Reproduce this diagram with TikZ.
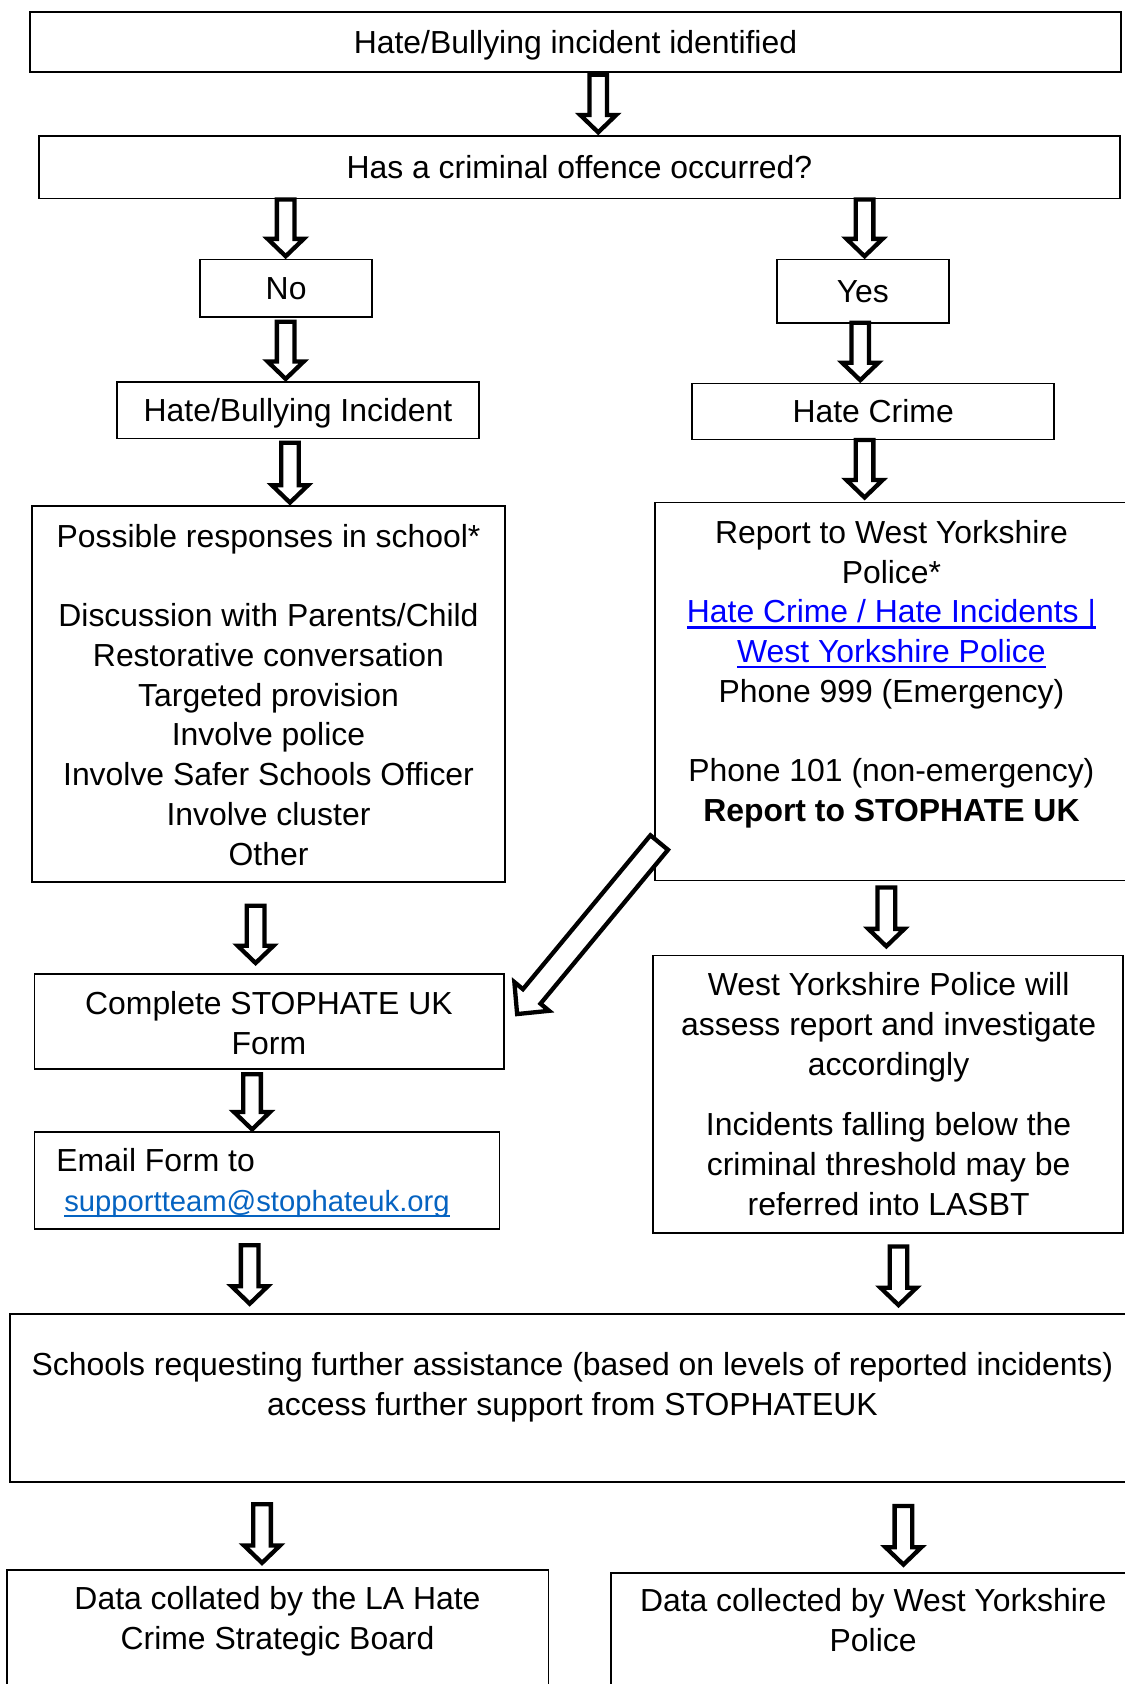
\documentclass[tikz,border=0pt]{standalone}
\usepackage{fontspec}
\setmainfont{Liberation Sans}
\usetikzlibrary{calc}
\definecolor{linkblue}{RGB}{0,0,255}
\definecolor{mailblue}{RGB}{5,99,193}
\newcommand{\myul}[1]{\setbox0=\hbox{#1}\rlap{\rule[-5.3pt]{\wd0}{2.1pt}}\box0}
\newcommand{\blkdown}[5]{\draw[blk={8.2}{16.8}{16.2}] ($(#1.south -| #3,0)+(0,#4)$) to ($(#2.north -| #3,0)+(0,-#5)$);}
\begin{document}
\begin{tikzpicture}[x=1pt,y=-1pt,
  box/.style={draw=black, line width=1.6pt, inner sep=0pt, outer sep=0pt},
  txt/.style={font=\fontsize{29.7}{37}\selectfont, align=center, inner sep=0pt, outer sep=0pt},
  one/.style={font=\fontsize{29.7}{37}\selectfont, inner sep=0pt, outer sep=0pt, text height=25pt, text depth=4pt},
  blk/.style n args={3}{draw=black, fill=white, line width=4pt, line join=miter,
    to path={let \p1=(\tikztostart), \p2=(\tikztotarget),
      \n1={atan2(\y2-\y1,\x2-\x1)}, \n2={veclen(\x2-\x1,\y2-\y1)},
      \n3={\n2-#3pt}, \n4={#2pt-#1pt} in
      (\p1) ++(\n1+90:#1pt) -- ++(\n1:\n3) -- ++(\n1+90:\n4) -- (\p2)
      -- ($(\p2)+(\n1+180:#3pt)+(\n1-90:#2pt)$) -- ++(\n1+90:\n4) -- ++(\n1+180:\n3) -- cycle}}]
\fill[white] (0,0) rectangle (1046.6,1568);
\useasboundingbox (0,0) rectangle (1046.6,1568);

\node[box,one,minimum width=1015.7pt,minimum height=55.5pt] (top) at (535.85,39.25) {Hate/Bullying incident identified};
\node[box,one,minimum width=1007pt,minimum height=58pt] (q) at (539.5,155.7) {Has a criminal offence occurred?};
\node[box,one,minimum width=160.2pt,minimum height=53.4pt] (no) at (266.4,268.3) {No};
\node[box,one,minimum width=160.3pt,minimum height=59pt] (yes) at (803.35,271.1) {Yes};
\node[box,one,minimum width=337.3pt,minimum height=52.5pt] (hbi) at (277.45,382.05) {Hate/Bullying Incident};
\node[box,one,minimum width=337.2pt,minimum height=52.2pt] (hc) at (813,383.1) {Hate Crime};

\node[box,minimum width=440pt,minimum height=350pt] (poss) at (250,646) {};
\node[txt] (tposs) at (250,650.1) {\strut Possible responses in school*\\[37pt] Discussion with Parents/Child\\ Restorative conversation\\ Targeted provision\\ Involve police\\ Involve Safer Schools Officer\\ Involve cluster\\ Other\strut};

\node[box,minimum width=440.2pt,minimum height=351.9pt] (report) at (829.9,643.85) {};
\node[txt] (trep) at (830,628.1) {\strut Report to West Yorkshire\\ Police*\\ \textcolor{linkblue}{\myul{Hate Crime / Hate Incidents |}}\\ \textcolor{linkblue}{\myul{West Yorkshire Police}}\\ Phone 999 (Emergency)\\[37pt] Phone 101 (non-emergency)\\ \textbf{Report to STOPHATE UK}\strut};

\node[box,minimum width=437pt,minimum height=88.5pt] (complete) at (250.5,950.95) {};
\node[txt] (tcomp) at (250.4,955.5) {\strut Complete STOPHATE UK\\ Form\strut};

\node[box,minimum width=433pt,minimum height=90pt] (email) at (248.5,1099.2) {};
\node[txt,align=left,anchor=west] (temail) at (52.5,1102.1) {\strut Email Form to\\ \hspace*{7.4pt}\textcolor{mailblue}{\myul{\fontsize{27.2}{37}\selectfont supportteam@stophateuk.org}}\strut};

\node[box,minimum width=437.8pt,minimum height=258.4pt] (wyp) at (826.9,1018.8) {};
\node[txt] (twyp) at (827.4,1021.9) {\strut West Yorkshire Police will\\ assess report and investigate\\ accordingly\\[19pt] Incidents falling below the\\ criminal threshold may be\\ referred into LASBT\strut};

\node[box,minimum width=1040.7pt,minimum height=156.2pt] (schools) at (529.65,1301.5) {};
\node[txt] (tschools) at (533,1292.1) {\strut Schools requesting further assistance (based on levels of reported incidents)\\ access further support from STOPHATEUK\strut};

\node[box,minimum width=504.1pt,minimum height=138.1pt] (datala) at (258.75,1530.95) {};
\node[txt] (tdatala) at (258.4,1509.5) {\strut Data collated by the LA Hate\\ Crime Strategic Board\strut};

\node[box,minimum width=481pt,minimum height=135.6pt] (datawyp) at (809.5,1532.2) {};
\node[txt] (tdatawyp) at (813,1511.8) {\strut Data collected by West Yorkshire\\ Police\strut};

\blkdown{top}{q}{557}{2.5}{3.5}
\blkdown{q}{no}{266}{1}{3}
\blkdown{q}{yes}{805}{1}{3}
\blkdown{no}{hbi}{266}{4.5}{3}
\blkdown{yes}{hc}{801}{0}{3}
\blkdown{hbi}{poss}{270}{4}{3}
\blkdown{hc}{report}{805}{0.5}{4.7}
\blkdown{poss}{complete}{238}{22.4}{10}
\blkdown{report}{wyp}{825.3}{6.5}{8.5}
\blkdown{complete}{email}{234.7}{5}{2.6}
\blkdown{email}{schools}{232.5}{15.3}{9.5}
\blkdown{wyp}{schools}{836.6}{12.7}{8.2}
\blkdown{schools}{datala}{244}{21.1}{6.7}
\blkdown{schools}{datawyp}{841.2}{22.7}{7.6}
\draw[blk={10.6}{21}{21.3}] ($(report.south west)+(4,-35.3)$) to ($(complete.east)+(12.5,-6.75)$);
\end{tikzpicture}
\end{document}
